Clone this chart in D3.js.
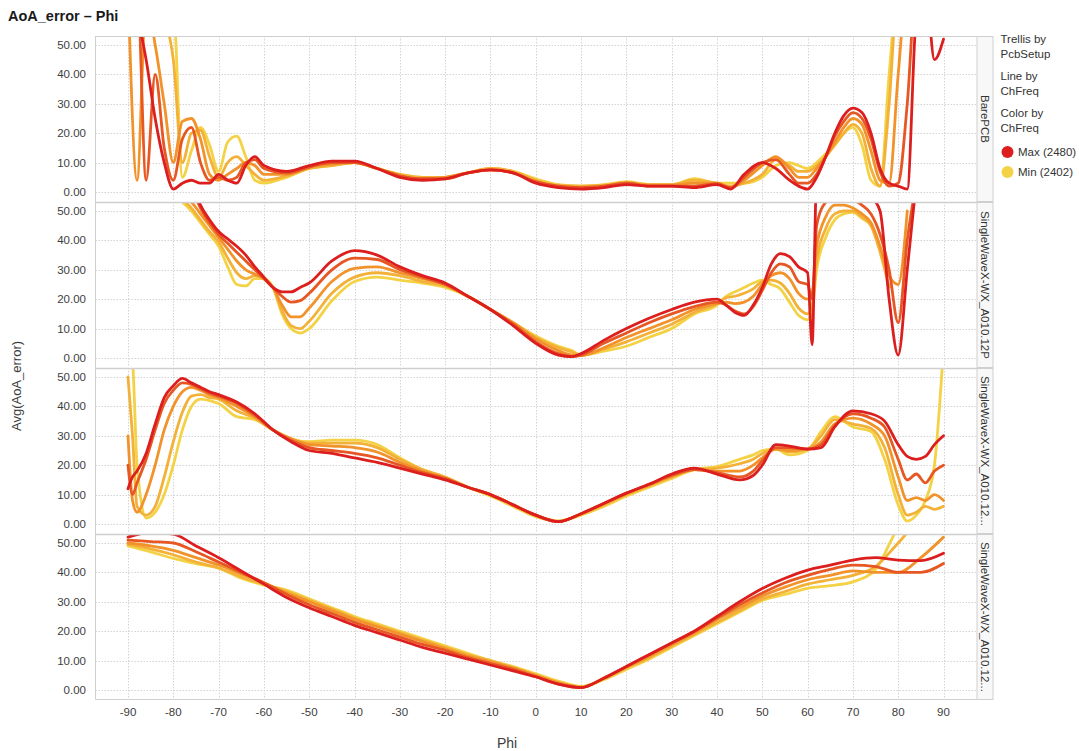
<!DOCTYPE html>
<html><head><meta charset="utf-8">
<script src="https://cdn.jsdelivr.net/npm/d3@7"></script>
<style>body{margin:0;background:#fff;} svg{display:block;font-family:"Liberation Sans",Arial,sans-serif;}</style>
</head><body><svg id="c" width="1079" height="751"></svg>
<script>
// ---------- data ----------
const channels = [2402, 2422, 2441, 2461, 2480];
const panelNames = ["BarePCB", "SingleWaveX-WX_A010.12P", "SingleWaveX-WX_A010.12...", "SingleWaveX-WX_A010.12..."];
const xTicks = [-90, -80, -70, -60, -50, -40, -30, -20, -10, 0, 10, 20, 30, 40, 50, 60, 70, 80, 90];
const yTicks = [0, 10, 20, 30, 40, 50];

// Panel 1: BarePCB
const phiBare = [-90,-88,-86,-84,-82,-80,-78,-76,-74,-72,-70,-68,-66,-64,-62,-60,
  -55,-50,-45,-40,-35,-30,-25,-20,-15,-10,-5,0,5,10,15,20,25,30,35,40,
  43,46,50,53,56,58,
  60,62,64,66,68,70,72,74,76,78,80,82,84,86,88,90];
const bare2402 = [70,70,70,70,70,65,5,14,22,16,7,17,19,12,4,3,
  5,8,9,10,8,6,5,5,6.5,8,7,4.5,2.5,2,2.5,3.5,2.5,2.5,4.5,3,
  3,3,5,9,10,9,
  8,10,13,16,20,22,16,4,2,40,70,70,70,70,70,70];
const bare2422 = [70,70,70,65,60,45,10,20,21,12,5,10,12,9,6,4,
  5.5,8,9,10,8,6,5,5,6.5,8,7,4,2.3,2,2.3,3.3,2.5,2.5,4,3,
  2,3,6,11,9,7,
  7,9,12,16,20,23,20,8,2,30,70,70,70,70,70,70];
const bare2441 = [70,4,65,50,30,10,24,25,18,6,4,6,8,10,9,6,
  6,8.5,9.5,10,8,5.5,4.5,5,6.5,7.5,6.5,3.5,2,1.5,2,3,2.3,2.3,3,3,
  1.5,4,9,12,8,5,
  5,8,12,17,22,25,23,14,4,3,40,70,70,70,70,70];
const bare2461 = [70,70,4,40,15,4,18,22,10,4,5,4,5,10,11,8,
  6.5,8.5,10,10,8,5.5,4.5,4.5,6.5,7.5,6.5,3.5,2,1.5,2,3,2,2,2,2.8,
  1.5,5,10,11,6,3,
  3,6,12,19,24,27,25,18,7,2,3,30,70,70,70,70];
const bare2480 = [70,60,45,25,10,1,3,4,3,3,6,4,3,9,12,9,
  7,9,10.5,10.5,8,5,4,4.5,6.5,7.5,6.5,3,1.5,1,1.5,2.5,2,2,1.5,2.5,
  1,6,10,8,4,2,
  1,5,12,20,26,28.5,27,20,8,3,2,1,60,70,45,52];

// Panel 2: SingleWaveX-WX_A010.12P
const phiSw1 = [-78,-76,-74,-72,-70,-68,-66,-64,-62,-60,-58,-56,-54,-52,-50,
  -45,-40,-35,-30,-25,-20,-15,-10,-5,0,
  5,8,10,
  15,20,25,30,35,40,
  42,44,46,48,50,52,54,56,58,60,
  61,62,
  64,66,68,70,72,74,76,78,80,82,84];
const sw1_2402 = [53,50,46,42,38,31,25,24.5,27,27,24,15,10,8.5,10,
  19.5,26,27.5,26.5,25.5,24,21,16.5,12,7.5,
  4,2.5,1,
  2.3,4,7,10,15,18,
  21,22.5,24,25.5,26.5,25,23.5,19,14.5,13,
  16,30,
  41,47,49,49.5,47.5,45,37,null,null,null,null];
const sw1_2422 = [54,51,47,43,39.5,34,29,27,28,27,24,16,11,10,12.5,
  22,27.5,29,28,26,24.5,21,16.5,12,7,
  3.5,2,1,
  3,5.5,8.5,11.5,15.5,18.5,
  20.5,21,22,23.5,26,26.5,25.5,22,17,15,
  18,33,
  44,49,50,50,48,45,36,24,null,null,null];
const sw1_2441 = [55,53,49,45,41,37,33,30,28.5,27,24,18,14,14,17,
  26,30.5,31,29,27,25,21,16.5,12,6.5,
  2.5,1,0.8,
  3.5,7,10,13,16.5,18.5,
  19,18.5,19,21,25,28,29,27,22,20,
  22,38,
  48,52,52,51,49,46,38,28,25,50,null];
const sw1_2461 = [null,58,51,46,42,39,36,33,30,27,24,21,19,19.5,22,
  30,34,33.5,30,27.5,25,21,16.5,11.5,5.5,
  1.5,0.5,1,
  5,8.5,12,15,17.5,19,
  18,16,15,17.5,23,29,32,31,26,25,
  20,45,
  53,55,55,54,52,49,42,30,12,40,60];
const sw1_2480 = [null,60,52,47,43,40.5,38,35,31,27.5,24,22.5,22.5,24,25.5,
  33,36.5,35,31,28,25.5,21,16.5,11,5,
  1,0.5,1.5,
  6,10,13.5,16.5,19,20,
  18,15.5,14.5,18,24,32,35.5,34.5,31,29,
  4.5,60,
  60,60,60,60,58,55,50,20,1,30,60];

// Panel 3: SingleWaveX-WX_A010.12... (a)
const phiSw2 = [-90,-89,-88,-86,-84,-82,-80,-78,-76,-74,-72,-70,
  -66,-62,-58,-54,-50,
  -45,-40,-35,-30,-25,-20,-15,-10,-5,0,
  5,10,15,20,25,30,35,40,45,
  48,50,53,56,60,63,66,70,74,77,80,82,84,86,88,90];
const sw2_2402 = [60,55,20,2,4,10,20,32,40,42.5,42,41,
  36.5,35.5,32,29,28,
  28.5,28.5,27,22.5,18.5,16,12.5,9.5,6,2.5,
  1,3,6,9.5,12.5,15.5,18.5,19.5,22,
  23.5,25,25.5,23.5,25,31.5,36.5,33,31.5,22,6.5,1,3,8,20,60];
const sw2_2422 = [50,30,6,3,6,16,28,38,43.5,44,43,42.5,
  38.5,36,32,29,27.5,
  27.5,27.5,26,22,18.5,16,12.5,10,6.5,3,
  1,3.3,6.5,10,13,16,18.5,19,20.5,
  22,24,25.5,24.5,25.5,30,35.5,34,32.5,26,10,3,4,6,5,6];
const sw2_2441 = [30,8,4,10,20,32,40,45,46.5,45.5,44,43,
  40,36.5,32,29,27,
  26.5,26,24.5,21,18,15.5,12.5,10,6.5,3,
  0.8,3.5,7,10.3,13.3,16.3,18.5,18,18,
  20,22.5,25.5,25,25.5,28,34,36,34,30,16,8,9,8,10,8];
const sw2_2461 = [20,10,14,22,32,41,45.5,48,47.5,46,44.5,43.5,
  41,37,32,28.5,26,
  25,24,22.5,20,17.5,15.5,12.5,10,6.5,3,
  0.8,3.5,7,10.5,13.5,16.5,18.5,17.5,16,
  18,21.5,26,26,25.5,27,33.5,37.5,36,33,22,15,17,14,18,20];
const sw2_2480 = [12,16,18,24,34,43,47,49.5,48,46.5,45,44,
  41.5,37.5,32,28,25,
  24,22.5,21,19,17,15,12.5,10,6.5,3,
  0.8,3.5,7,10.5,13.5,17,19,17,15,
  16.5,20,27,26.5,25.5,26,33,38.5,37.5,35,27,23,22,23,27,30];

// Panel 4: SingleWaveX-WX_A010.12... (b)
const phiSw3 = [-90,-85,-80,-75,-70,-65,-60,-55,-50,-45,-40,-35,-30,-25,-20,-15,-10,-5,0,
  5,10,15,20,25,30,35,40,45,50,55,60,65,70,75,80,85,90];
const sw3_2402 = [49,47,44.8,43,41.4,38,35.7,34,31,28,25,22.5,20,17.5,15,12.5,10,8,5.5,
  3,1.2,3.5,7,10.5,14.5,18.5,22.5,26.5,30.5,32.5,34.6,35.5,36.8,41,55,60,60];
const sw3_2422 = [49.5,48,46,43.5,41.5,38.5,36,33.5,30.5,27.5,24.5,22,19.5,17,14.5,12,10,7.5,5,
  2.5,1,3.8,7.5,11,15,19,23,27,31,33.5,36,37.5,39,42,50,58,60];
const sw3_2441 = [50,49,47.5,45,42.5,39.5,36.5,33,30,27,24,21.5,19,16.5,14,11.5,9.5,7.5,5,
  2.5,1,4,7.8,11.5,15.5,19.5,24,28,32,35,37.5,39,40.5,40,40,45,52];
const sw3_2461 = [51,50.5,50,47,43.5,40,36.5,32.5,29,26,23,20.5,18,15.5,13.5,11,9,7,4.5,
  2,0.8,4,8,12,16,20,24.5,29,33,36.5,39,41,42.5,42,40,40,43];
const sw3_2480 = [52,53.5,53,49,45,40.5,36,31.5,28,25,22,19.5,17,14.5,12.5,10.5,8.5,6.5,4.5,
  2,0.8,4,8,12,16,20,25,30,34.5,38,40.8,42.5,44.2,45,44.2,44,46.5];

const panels = [
  {name: panelNames[0], phi: phiBare, series: [bare2402, bare2422, bare2441, bare2461, bare2480]},
  {name: panelNames[1], phi: phiSw1, series: [sw1_2402, sw1_2422, sw1_2441, sw1_2461, sw1_2480]},
  {name: panelNames[2], phi: phiSw2, series: [sw2_2402, sw2_2422, sw2_2441, sw2_2461, sw2_2480]},
  {name: panelNames[3], phi: phiSw3, series: [sw3_2402, sw3_2422, sw3_2441, sw3_2461, sw3_2480]}
];

// ---------- layout ----------
const svg = d3.select("#c");
const L = 95.5, R = 977, T0 = 36, PH = 166;
const x = d3.scaleLinear().domain([-90, 90]).range([128, 943.5]);
const color = d3.scaleLinear().domain([2402, 2441, 2480]).range(["#f4d246", "#f2922a", "#dc1e1e"]);
const txt = "#3d3d3d", gridC = "#d4d4d4", frameC = "#cfcfcf";

svg.append("text").attr("x", 8).attr("y", 21).attr("font-size", 14.5).attr("font-weight", "bold")
  .attr("fill", "#1a1a1a").text("AoA_error \u2013 Phi");

const defs = svg.append("defs");

panels.forEach((p, k) => {
  const top = T0 + PH * k, bottom = top + PH - 1;
  const y = d3.scaleLinear().domain([0, 50]).range([top + 156, top + 9]);
  const g = svg.append("g");

  // grid
  g.selectAll(".hg").data(yTicks).join("line")
    .attr("x1", L).attr("x2", R).attr("y1", d => Math.round(y(d)) + 0.5).attr("y2", d => Math.round(y(d)) + 0.5)
    .attr("stroke", gridC).attr("stroke-dasharray", "1.5,1.5");
  g.selectAll(".vg").data(xTicks).join("line")
    .attr("y1", top).attr("y2", bottom).attr("x1", d => Math.round(x(d)) + 0.5).attr("x2", d => Math.round(x(d)) + 0.5)
    .attr("stroke", gridC).attr("stroke-dasharray", "1.5,1.5");

  // y tick labels
  g.selectAll(".yt").data(yTicks).join("text")
    .attr("x", 86).attr("y", d => y(d)).attr("dy", "0.35em").attr("text-anchor", "end")
    .attr("font-size", 11.5).attr("fill", txt).text(d => d3.format(".2f")(d));

  // clip
  const cid = "clip" + k;
  defs.append("clipPath").attr("id", cid).append("rect")
    .attr("x", L).attr("y", top + 0.5).attr("width", R - L).attr("height", PH - 1.5);

  const line = d3.line().defined(d => d.v != null).x(d => x(d.phi)).y(d => y(d.v)).curve(d3.curveMonotoneX);
  const lg = g.append("g").attr("clip-path", `url(#${cid})`);
  p.series.forEach((vals, i) => {
    const pts = p.phi.map((ph, j) => ({phi: ph, v: vals[j]}));
    lg.append("path").datum(pts).attr("d", line).attr("fill", "none")
      .attr("stroke", color(channels[i])).attr("stroke-width", 2.8)
      .attr("stroke-linejoin", "round").attr("stroke-linecap", "round");
  });

  // separator / strip
  svg.append("line").attr("x1", L).attr("x2", 993).attr("y1", top + 0.5).attr("y2", top + 0.5)
    .attr("stroke", frameC).attr("stroke-width", k === 0 ? 1 : 1.6);
  svg.append("rect").attr("x", R).attr("y", top + 0.5).attr("width", 16).attr("height", PH - 1)
    .attr("fill", "#f8f8f8").attr("stroke", frameC);
  svg.append("text").attr("transform", `translate(985.5,${top + PH / 2}) rotate(90)`)
    .attr("text-anchor", "middle").attr("dy", "0.35em").attr("font-size", 11.5).attr("fill", "#333")
    .text(p.name);
});

// frame
const yb = T0 + PH * 4 - 0.5;
svg.append("line").attr("x1", L).attr("x2", L).attr("y1", T0).attr("y2", yb).attr("stroke", frameC);
svg.append("line").attr("x1", L).attr("x2", 993).attr("y1", yb).attr("y2", yb).attr("stroke", frameC);

// x tick labels
svg.selectAll(".xt").data(xTicks).join("text")
  .attr("x", d => x(d)).attr("y", 716).attr("text-anchor", "middle")
  .attr("font-size", 11.5).attr("fill", txt).text(d => d);

// axis titles
svg.append("text").attr("x", 507).attr("y", 748).attr("text-anchor", "middle")
  .attr("font-size", 14).attr("fill", txt).text("Phi");
svg.append("text").attr("transform", "translate(21,386) rotate(-90)").attr("text-anchor", "middle")
  .attr("font-size", 13).attr("fill", txt).text("Avg(AoA_error)");

// legend
const lx = 1000.5;
const legendLines = [["Trellis by", 43], ["PcbSetup", 58], ["Line by", 80], ["ChFreq", 95], ["Color by", 117], ["ChFreq", 132]];
legendLines.forEach(([t, yy]) => svg.append("text").attr("x", lx).attr("y", yy).attr("font-size", 11.5).attr("fill", "#333").text(t));
const legendItems = [["Max (2480)", 2480, 152], ["Min (2402)", 2402, 172]];
legendItems.forEach(([t, c, yy]) => {
  svg.append("circle").attr("cx", 1007.5).attr("cy", yy).attr("r", 6).attr("fill", color(c));
  svg.append("text").attr("x", 1018).attr("y", yy).attr("dy", "0.35em").attr("font-size", 11.5).attr("fill", "#333").text(t);
});
</script></body></html>
